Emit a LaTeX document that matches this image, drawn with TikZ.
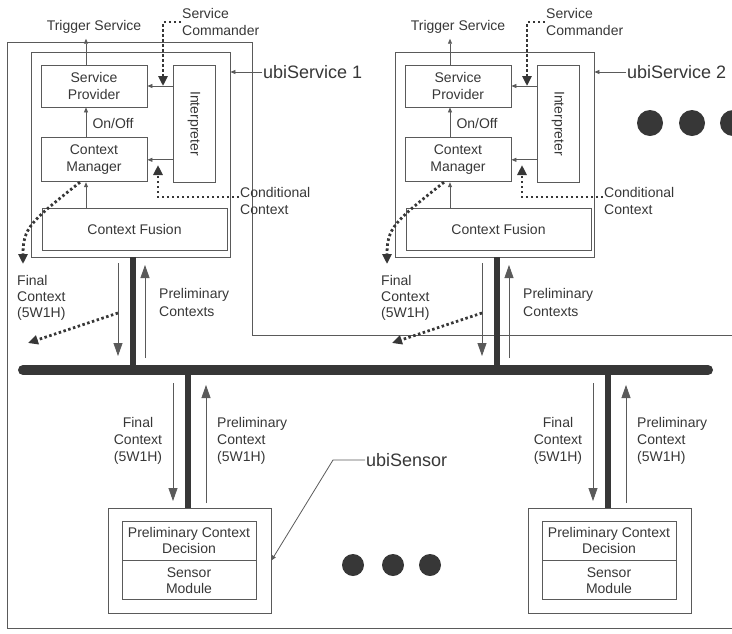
\documentclass[tikz,border=0pt]{standalone}
\usepackage{fontspec}
\setmainfont{Liberation Sans}
\usetikzlibrary{arrows.meta,positioning}
\definecolor{scanink}{RGB}{55,55,55}
\definecolor{scanline}{RGB}{90,90,90}

\begin{document}
\begin{tikzpicture}[x=1pt, y=-1pt, every node/.style={text=scanink},
        box/.style={rectangle,draw=scanline,line width=0.8pt,inner sep=0pt,align=center,
          font=\fontsize{14}{17}\selectfont},
        txt/.style={inner sep=1pt,align=left,font=\fontsize{14}{17}\selectfont},
        ubi/.style={inner sep=1pt,font=\fontsize{18}{21}\selectfont},
        flow/.style={-{Triangle[length=5pt,width=4pt]},draw=scanline,line width=0.8pt},
        bigflow/.style={-{Triangle[length=13pt,width=9pt]},draw=scanline,line width=0.8pt},
        dotflow/.style={-{Triangle[length=10pt,width=9pt]},draw=scanink,line width=2.8pt,
          dash pattern=on 2.5pt off 2.5pt},
        stem/.style={draw=scanink,line width=6pt},
        bus/.style={draw=scanink,line width=10pt,line cap=round},
        frame/.style={draw=scanline,line width=0.8pt},
        blob/.style={circle,fill=scanink,inner sep=0pt}]
        \useasboundingbox (0,0) rectangle (732,633);
        % figure frame
        \draw[frame] (732,335) -- (252,335) -- (252,42) -- (7,42) -- (7,628) -- (732,628);
        % network bus
        \coordinate (busL) at (23,370);
        \coordinate (busR) at (708,370);
        \draw[bus] (busL) -- (busR);
        % ubiServices
        \foreach \ox/\k in {0/1,364/2} {
          \node[box,minimum width=199pt,minimum height=205pt] (svc\k) at (130.5+\ox,154.5) {};
          \node[box,minimum width=106pt,minimum height=42pt] (sp\k) at (94+\ox,86) {Service\\Provider};
          \node[box,minimum width=106pt,minimum height=44pt,below=30pt of sp\k] (cm\k) {Context\\Manager};
          \node[box,minimum width=42pt,minimum height=117pt] (ip\k) at (194+\ox,123.5) {\rotatebox{-90}{Interpreter}};
          \node[box,minimum width=185pt,minimum height=42pt] (cf\k) at (134.5+\ox,229) {Context Fusion};
          \coordinate (ax\k) at (86+\ox,0);
          \coordinate (fs\k) at (80+\ox,0);
          \node[txt] (trig\k) at (94+\ox,27) {Trigger Service};
          \node[txt] (onoff\k) at (113+\ox,123) {On/Off};
          \draw[flow,shorten >=4pt] (sp\k.north -| ax\k) -- (trig\k.south -| ax\k);
          \draw[flow] (cm\k.north -| ax\k) -- (sp\k.south -| ax\k);
          \draw[flow] (cf\k.north -| ax\k) -- (cm\k.south -| ax\k);
          \draw[flow] (ip\k.west |- sp\k.east) -- (sp\k.east);
          \draw[flow] (ip\k.west |- cm\k.east) -- (cm\k.east);
          % commands and conditions
          \node[txt,anchor=west] (cmd\k) at (181+\ox,22) {Service\\Commander};
          \coordinate (cmdtip\k) at (163+\ox,86);
          \draw[dotflow] (cmd\k.west) -| (cmdtip\k);
          \node[txt,anchor=west] (cond\k) at (239+\ox,201) {Conditional\\Context};
          \coordinate (condtip\k) at (158+\ox,165);
          \draw[dotflow] ([yshift=4pt]cond\k.west) -| (condtip\k);
          \coordinate (fb\k) at (23+\ox,264);
          \draw[dotflow] (cm\k.south -| fs\k) .. controls (30+\ox,222) and (23+\ox,228) .. (fb\k);
          \node[ubi,anchor=west] (us\k) at (262+\ox,72) {ubiService \k};
          \draw[flow] (us\k.west) -- (svc\k.east |- us\k.west);
          % link to the bus
          \coordinate (tap\k) at (133+\ox,370);
          \coordinate (fin\k) at (28+\ox,343);
          \draw[stem] (svc\k.south -| tap\k) -- (tap\k);
          \draw[bigflow] ([xshift=-15pt,yshift=107pt]tap\k) -- ([xshift=-15pt,yshift=14pt]tap\k);
          \draw[bigflow] ([xshift=12pt,yshift=12pt]tap\k) -- ([xshift=12pt,yshift=105pt]tap\k);
          \draw[dotflow] ([xshift=-15pt,yshift=57pt]tap\k) -- (fin\k);
          \node[txt,anchor=west,font=\fontsize{14}{16}\selectfont] (fc\k) at (16+\ox,298) {Final\\Context\\(5W1H)};
          \node[txt,anchor=west,font=\fontsize{14}{18}\selectfont] (pc\k) at (158+\ox,302) {Preliminary\\Contexts};
        }
        % ubiSensors
        \foreach \ox/\k in {0/1,420/2} {
          \coordinate (drop\k) at (188+\ox,370);
          \node[box,minimum width=163pt,minimum height=105pt] (sen\k) at (189.5+\ox,560.5) {};
          \node[box,minimum width=134pt,minimum height=39pt,font=\fontsize{14}{16}\selectfont]
            (pcd\k) at (189+\ox,540.5) {Preliminary Context\\Decision};
          \node[box,minimum width=134pt,minimum height=39pt,font=\fontsize{14}{16}\selectfont,
            below=0pt of pcd\k] (sm\k) {Sensor\\Module};
          \draw[stem] (drop\k) -- (sen\k.north -| drop\k);
          \draw[bigflow] ([xshift=-15pt,yshift=-13pt]drop\k) -- ([xshift=-15pt,yshift=-131pt]drop\k);
          \draw[bigflow] ([xshift=18pt,yshift=-133pt]drop\k) -- ([xshift=18pt,yshift=-15pt]drop\k);
          \node[txt,align=center] (sfc\k) at (138+\ox,441) {Final\\Context\\(5W1H)};
          \node[txt,anchor=west] (spc\k) at (216+\ox,441) {Preliminary\\Context\\(5W1H)};
        }
        \node[ubi,anchor=west] (usen) at (365,460) {ubiSensor};
        \draw[flow] (usen.west) -- ([xshift=-32pt]usen.west) -- (sen1.east);
        % more nodes
        \foreach \cx in {353,393,430} \node[blob,minimum size=22pt] (dotS\cx) at (\cx,565) {};
        \foreach \cx in {650,692,733} \node[blob,minimum size=26pt] (dotU\cx) at (\cx,123) {};
      \end{tikzpicture}
\end{document}
